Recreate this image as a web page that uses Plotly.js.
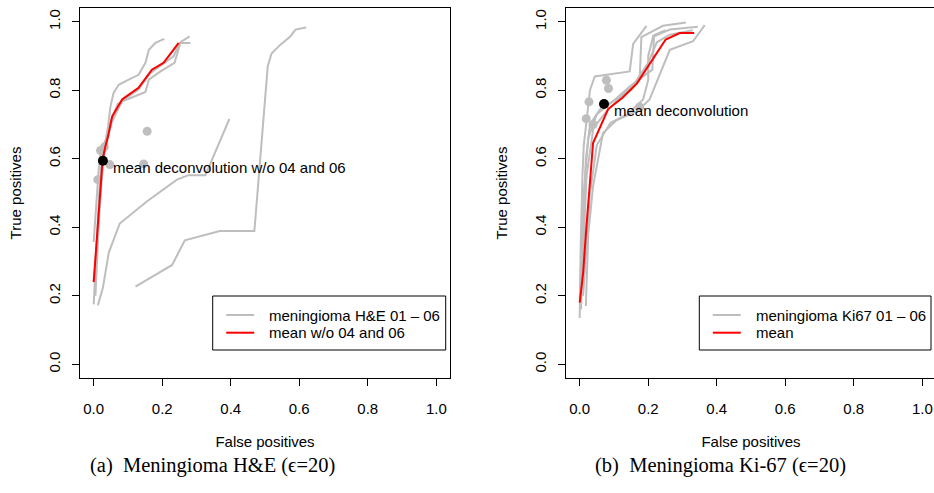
<!DOCTYPE html>
<html>
<head>
<meta charset="utf-8">
<script src="https://cdn.plot.ly/plotly-3.0.1.min.js"></script>
<style>
  html, body { margin: 0; padding: 0; overflow: hidden; background: #fff; }
  #chart { width: 940px; height: 493px; }
</style>
</head>
<body>
<div id="chart"></div>
<script>
// ---- Meningioma H&E ROC curves (false / true positive rates) ----
const he01Fpr = [0.0, 0.008, 0.016, 0.024, 0.032, 0.042, 0.049, 0.058, 0.073, 0.102, 0.131, 0.151, 0.161, 0.180, 0.206];
const he01Tpr = [0.175, 0.35, 0.5, 0.6, 0.636, 0.695, 0.753, 0.792, 0.816, 0.831, 0.845, 0.88, 0.918, 0.938, 0.950];
const he02Fpr = [0.0, 0.02, 0.03, 0.04, 0.055, 0.085, 0.131, 0.165, 0.20, 0.233, 0.253, 0.28];
const he02Tpr = [0.24, 0.5, 0.62, 0.66, 0.715, 0.77, 0.802, 0.85, 0.875, 0.899, 0.94, 0.957];
const he03Fpr = [0.0, 0.006, 0.014, 0.02, 0.035, 0.05, 0.07, 0.097, 0.151, 0.161, 0.195, 0.236, 0.253, 0.282];
const he03Tpr = [0.357, 0.46, 0.56, 0.62, 0.655, 0.71, 0.76, 0.773, 0.795, 0.831, 0.855, 0.88, 0.938, 0.938];
const he04Fpr = [0.012, 0.027, 0.044, 0.076, 0.156, 0.243, 0.277, 0.326, 0.396];
const he04Tpr = [0.172, 0.224, 0.326, 0.411, 0.476, 0.539, 0.552, 0.552, 0.716];
const he05Fpr = [0.005, 0.02, 0.028, 0.036, 0.05, 0.083, 0.131, 0.170, 0.204, 0.248];
const he05Tpr = [0.2, 0.52, 0.6, 0.64, 0.7, 0.773, 0.807, 0.86, 0.88, 0.936];
const he06Fpr = [0.122, 0.229, 0.266, 0.368, 0.469, 0.508, 0.519, 0.545, 0.574, 0.589, 0.62];
const he06Tpr = [0.227, 0.29, 0.362, 0.389, 0.389, 0.87, 0.907, 0.933, 0.957, 0.977, 0.983];
const heMeanFpr = [0.0, 0.026, 0.034, 0.042, 0.054, 0.083, 0.131, 0.170, 0.204, 0.248];
const heMeanTpr = [0.24, 0.598, 0.636, 0.666, 0.724, 0.773, 0.807, 0.860, 0.880, 0.938];
// deconvolution operating points per sample, and their mean (w/o 04 and 06)
const heDeconvFpr = [0.012, 0.020, 0.031, 0.047, 0.146, 0.156];
const heDeconvTpr = [0.539, 0.624, 0.634, 0.583, 0.585, 0.680];
const heDeconvMeanFpr = [0.027];
const heDeconvMeanTpr = [0.594];

// ---- Meningioma Ki-67 ROC curves ----
const ki01Fpr = [0.0, 0.003, 0.008, 0.012, 0.03, 0.044, 0.146, 0.156, 0.195];
const ki01Tpr = [0.135, 0.35, 0.55, 0.64, 0.80, 0.84, 0.855, 0.935, 0.988];
const ki02Fpr = [0.004, 0.01, 0.018, 0.03, 0.06, 0.11, 0.15, 0.175, 0.18, 0.243, 0.31];
const ki02Tpr = [0.16, 0.42, 0.6, 0.70, 0.745, 0.775, 0.80, 0.83, 0.955, 0.988, 0.998];
const ki03Fpr = [0.018, 0.025, 0.039, 0.068, 0.107, 0.17, 0.204, 0.263, 0.331, 0.365];
const ki03Tpr = [0.17, 0.38, 0.52, 0.675, 0.712, 0.74, 0.773, 0.918, 0.943, 0.99];
const ki04Fpr = [0.0, 0.012, 0.025, 0.05, 0.1, 0.146, 0.212, 0.217, 0.263, 0.345];
const ki04Tpr = [0.19, 0.5, 0.66, 0.73, 0.77, 0.811, 0.86, 0.957, 0.977, 0.985];
const ki05Fpr = [0.005, 0.02, 0.04, 0.08, 0.13, 0.16, 0.2, 0.225, 0.263, 0.3, 0.33];
const ki05Tpr = [0.2, 0.55, 0.69, 0.74, 0.79, 0.82, 0.88, 0.94, 0.962, 0.97, 0.975];
const ki06Fpr = [0.01, 0.03, 0.05, 0.09, 0.14, 0.185, 0.2, 0.2, 0.215, 0.25];
const ki06Tpr = [0.2, 0.5, 0.64, 0.705, 0.73, 0.773, 0.83, 0.9, 0.96, 0.975];
const kiMeanFpr = [0.0, 0.01, 0.019, 0.029, 0.039, 0.083, 0.125, 0.167, 0.209, 0.251, 0.292, 0.334];
const kiMeanTpr = [0.18, 0.267, 0.394, 0.52, 0.646, 0.745, 0.778, 0.82, 0.884, 0.948, 0.967, 0.967];
const kiDeconvFpr = [0.019, 0.027, 0.039, 0.078, 0.084, 0.175];
const kiDeconvTpr = [0.717, 0.766, 0.70, 0.829, 0.805, 0.751];
const kiDeconvMeanFpr = [0.071];
const kiDeconvMeanTpr = [0.76];

// ---- labels ----
const tickVals = [0, 0.2, 0.4, 0.6, 0.8, 1.0];
const tickText = ['0.0', '0.2', '0.4', '0.6', '0.8', '1.0'];
const heLegendCurves = 'meningioma H&E 01 \u2013 06';
const heLegendMean = 'mean w/o 04 and 06';
const kiLegendCurves = 'meningioma Ki67 01 \u2013 06';
const kiLegendMean = 'mean';
const heDeconvLabel = 'mean deconvolution w/o 04 and 06';
const kiDeconvLabel = 'mean deconvolution';
const heCaption = '(a)  Meningioma H&E (\u03f5=20)';
const kiCaption = '(b)  Meningioma Ki-67 (\u03f5=20)';

const GRAY = '#bebebe';
const RED = '#ff0000';
const SANS = 'Liberation Sans, Arial, Helvetica, sans-serif';
const SERIF = 'Liberation Serif, DejaVu Serif, serif';
const FS = 15;

function curveTraces(curves, xa, ya, name) {
  return curves.map((c) => ({
    type: 'scatter', mode: 'lines', x: c[0], y: c[1], xaxis: xa, yaxis: ya,
    line: { color: GRAY, width: 2 }, name: name, showlegend: false, hoverinfo: 'skip'
  }));
}

const heCurves = [[he01Fpr, he01Tpr], [he02Fpr, he02Tpr], [he03Fpr, he03Tpr],
                  [he04Fpr, he04Tpr], [he05Fpr, he05Tpr], [he06Fpr, he06Tpr]];
const kiCurves = [[ki01Fpr, ki01Tpr], [ki02Fpr, ki02Tpr], [ki03Fpr, ki03Tpr],
                  [ki04Fpr, ki04Tpr], [ki05Fpr, ki05Tpr], [ki06Fpr, ki06Tpr]];

const traces = [].concat(
  curveTraces(heCurves, 'x', 'y', heLegendCurves),
  [{ type: 'scatter', mode: 'markers', x: heDeconvFpr, y: heDeconvTpr, xaxis: 'x', yaxis: 'y',
     marker: { color: GRAY, size: 9 }, showlegend: false, hoverinfo: 'skip' },
   { type: 'scatter', mode: 'lines', x: heMeanFpr, y: heMeanTpr, xaxis: 'x', yaxis: 'y',
     line: { color: RED, width: 2 }, name: heLegendMean, showlegend: false, hoverinfo: 'skip' },
   { type: 'scatter', mode: 'markers', x: heDeconvMeanFpr, y: heDeconvMeanTpr, xaxis: 'x', yaxis: 'y',
     marker: { color: '#000', size: 10 }, showlegend: false, hoverinfo: 'skip' }],
  curveTraces(kiCurves, 'x2', 'y2', kiLegendCurves),
  [{ type: 'scatter', mode: 'markers', x: kiDeconvFpr, y: kiDeconvTpr, xaxis: 'x2', yaxis: 'y2',
     marker: { color: GRAY, size: 9 }, showlegend: false, hoverinfo: 'skip' },
   { type: 'scatter', mode: 'lines', x: kiMeanFpr, y: kiMeanTpr, xaxis: 'x2', yaxis: 'y2',
     line: { color: RED, width: 2 }, name: kiLegendMean, showlegend: false, hoverinfo: 'skip' },
   { type: 'scatter', mode: 'markers', x: kiDeconvMeanFpr, y: kiDeconvMeanTpr, xaxis: 'x2', yaxis: 'y2',
     marker: { color: '#000', size: 10 }, showlegend: false, hoverinfo: 'skip' }]
);

const W = 940, H = 493;
const M = { l: 80, r: 4, t: 8, b: 115 };
const plotW = W - M.l - M.r;   // 856
const plotH = H - M.t - M.b;   // 370
const panelW = 370;

// pixel -> paper coordinate helpers for the figure furniture
const px = (v) => (v - M.l) / plotW;
const py = (v) => (M.t + plotH - v) / plotH;

function xAxis(domain, anchor) {
  return {
    domain: domain, anchor: anchor, range: [-0.04, 1.04], automargin: false,
    tickvals: tickVals, ticktext: tickText, ticks: 'outside', ticklen: 7, tickwidth: 1,
    tickcolor: '#000', showline: true, mirror: true, linecolor: '#000', linewidth: 1,
    showgrid: false, zeroline: false, tickangle: 0, ticklabelstandoff: 10,
    tickfont: { family: SANS, size: FS, color: '#000' },
    title: { text: 'False positives', font: { family: SANS, size: FS, color: '#000' }, standoff: 20 }
  };
}
function yAxis(anchor) {
  return {
    domain: [0, 1], anchor: anchor, range: [-0.04, 1.04], automargin: false,
    tickvals: tickVals, ticktext: tickText, ticks: 'outside', ticklen: 7, tickwidth: 1,
    tickcolor: '#000', showline: true, mirror: true, linecolor: '#000', linewidth: 1,
    showgrid: false, zeroline: false, tickangle: -90, ticklabelstandoff: 6,
    tickfont: { family: SANS, size: FS, color: '#000' },
    title: { text: 'True positives', font: { family: SANS, size: FS, color: '#000' }, standoff: 20 }
  };
}

// legend box: frame, two line swatches and their labels
function legend(left, right, labels, colors) {
  const top = 296, bottom = 350, rows = [315, 332.7];
  const shapes = [{
    type: 'rect', xref: 'paper', yref: 'paper', layer: 'above',
    x0: px(left), x1: px(right), y0: py(bottom), y1: py(top),
    line: { color: '#000', width: 1 }, fillcolor: '#fff'
  }];
  const notes = [];
  rows.forEach((r, i) => {
    shapes.push({
      type: 'line', xref: 'paper', yref: 'paper', layer: 'above',
      x0: px(left + 13.5), x1: px(left + 41.5), y0: py(r), y1: py(r),
      line: { color: colors[i], width: 2 }
    });
    notes.push({
      xref: 'paper', yref: 'paper', x: px(left + 54.5), y: py(r), text: labels[i],
      showarrow: false, xanchor: 'left', yanchor: 'middle',
      font: { family: SANS, size: FS, color: '#000' }
    });
  });
  return { shapes, notes };
}

const legA = legend(212.7, 445.7, [heLegendCurves, heLegendMean], [GRAY, RED]);
const legB = legend(699.3, 931, [kiLegendCurves, kiLegendMean], [GRAY, RED]);

const captionY = py(465);

const layout = {
  width: W, height: H,
  margin: { l: M.l, r: M.r, t: M.t, b: M.b, pad: 0, autoexpand: false },
  paper_bgcolor: '#fff', plot_bgcolor: '#fff', showlegend: false,
  font: { family: SANS, size: FS, color: '#000' },
  xaxis: xAxis([0, panelW / plotW], 'y'),
  yaxis: yAxis('x'),
  xaxis2: xAxis([1 - panelW / plotW, 1], 'y2'),
  yaxis2: yAxis('x2'),
  shapes: legA.shapes.concat(legB.shapes),
  annotations: [
    { xref: 'x', yref: 'y', x: heDeconvMeanFpr[0], y: heDeconvMeanTpr[0], text: heDeconvLabel,
      showarrow: false, xanchor: 'left', yanchor: 'middle', xshift: 8, yshift: -7,
      font: { family: SANS, size: FS, color: '#000' } },
    { xref: 'x2', yref: 'y2', x: kiDeconvMeanFpr[0], y: kiDeconvMeanTpr[0], text: kiDeconvLabel,
      showarrow: false, xanchor: 'left', yanchor: 'middle', xshift: 8, yshift: -7,
      font: { family: SANS, size: FS, color: '#000' } },
    { xref: 'paper', yref: 'paper', x: px(212), y: captionY,
      text: heCaption, showarrow: false, xanchor: 'center', yanchor: 'middle',
      font: { family: SERIF, size: 20.5, color: '#000' } },
    { xref: 'paper', yref: 'paper', x: px(720), y: captionY,
      text: kiCaption, showarrow: false, xanchor: 'center', yanchor: 'middle',
      font: { family: SERIF, size: 20.5, color: '#000' } }
  ].concat(legA.notes, legB.notes)
};

Plotly.newPlot('chart', traces, layout, { staticPlot: true, displayModeBar: false });
</script>
</body>
</html>
